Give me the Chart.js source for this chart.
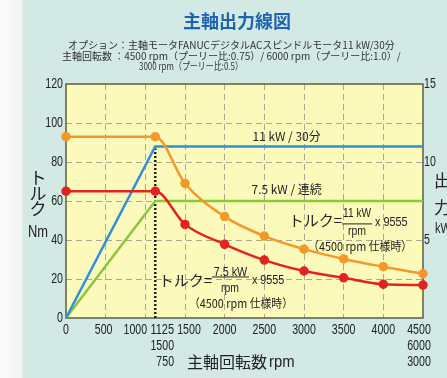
<!DOCTYPE html>
<html>
<head>
<meta charset="utf-8">
<script src="https://cdn.jsdelivr.net/npm/chart.js@4.4.1/dist/chart.umd.min.js"></script>
<style>
  html, body { margin: 0; padding: 0; background: #fff; }
  #wrap {
    width: 447px; height: 378px; position: relative;
    background: linear-gradient(to right, #fbfbfb 0px, #f2f4f3 22px, #d3eae4 23px, #d3eae4 100%);
  }
</style>
</head>
<body>
<div id="wrap"><canvas id="myChart"></canvas></div>
<script>
'use strict';

// rpm where the torque curves have marks
const rpmSteps = [0, 1125, 1500, 2000, 2500, 3000, 3500, 4000, 4500];
// torque, Nm (11 kW / 30 min)
const torque30min = [93, 93, 69, 52, 42, 35.3, 30.3, 26.3, 22.7];
// torque, Nm (7.5 kW continuous)
const torqueCont = [65, 65, 48, 37.8, 29.7, 24.1, 20.6, 17.3, 16.9];

// power lines, kW (right axis)
const powerRpm = [0, 1125, 4500];
const power30min = [0, 11, 11];
const powerCont = [0, 7.5, 7.5];

// base speed marker
const baseRpm = 1125;
const baseMarkTop = 87;

// tick labels
const xTickValues = [0, 500, 1000, 1125, 1500, 2000, 2500, 3000, 3500, 4000, 4500];
const xTickLabels = [['0'], ['500'], ['1000'], ['1125', '1500', '750'], ['1500'], ['2000'],
  ['2500'], ['3000'], ['3500'], ['4000'], ['4500', '6000', '3000']];
const torqueTicks = [0, 20, 40, 60, 80, 100, 120];
const powerTicks = [5, 10, 15];

const numFont = '"Liberation Sans", Arial, sans-serif';
const jpFont = '"Noto Sans CJK JP", sans-serif';

function pts(xs, ys) {
  return xs.map((x, i) => ({x: x, y: ys[i]}));
}

// narrow digits like the printed chart
function narrow(ctx, t, x, y, per) {
  ctx.fillText(t, x, y, t.length * per);
}

const decor = {
  id: 'decor',
  beforeDraw(chart) {
    const {ctx, chartArea: a} = chart;
    ctx.save();
    ctx.fillStyle = '#fcfabb';
    ctx.fillRect(a.left, a.top, a.right - a.left, a.bottom - a.top);
    ctx.restore();
  },
  beforeDatasetsDraw(chart) {
    const {ctx, chartArea: a} = chart;
    ctx.save();
    ctx.strokeStyle = '#5c5c48';
    ctx.lineWidth = 1.5;
    ctx.strokeRect(a.left, a.top, a.right - a.left, a.bottom - a.top);
    ctx.restore();
  },
  afterDraw(chart) {
    const ctx = chart.ctx;
    const a = chart.chartArea;
    const xs = chart.scales.x, ys = chart.scales.y, y2 = chart.scales.y2;
    ctx.save();

    // header
    ctx.fillStyle = '#1f64b1';
    ctx.font = 'bold 18px ' + jpFont;
    ctx.textAlign = 'center';
    ctx.textBaseline = 'middle';
    ctx.fillText('主軸出力線図', 237, 21);

    ctx.fillStyle = '#333';
    ctx.font = '10px ' + jpFont;
    ctx.textAlign = 'left';
    ctx.fillText('オプション：主軸モータFANUCデジタルACスピンドルモータ11 kW/30分', 68, 45, 355);
    ctx.fillText('主軸回転数 ：4500 rpm（プーリー比:0.75）/ 6000 rpm（プーリー比:1.0）/', 62, 56, 346);
    ctx.fillText('3000 rpm（プーリー比:0.5）', 139, 66, 104);

    // axis titles
    ctx.fillStyle = '#222';
    ctx.textAlign = 'center';
    ctx.font = '17px ' + jpFont;
    ['ト', 'ル', 'ク'].forEach((c, i) => ctx.fillText(c, 38, 178 + i * 15.5));
    ctx.font = '16px ' + numFont;
    narrow(ctx, 'Nm', 38, 233, 10);

    ctx.textAlign = 'left';
    ctx.font = '17px ' + jpFont;
    ctx.fillText('出', 434, 181);
    ctx.fillText('力', 434, 208);
    ctx.font = '15px ' + numFont;
    narrow(ctx, 'kW', 435, 229, 8);

    ctx.font = '16px ' + jpFont;
    ctx.fillText('主軸回転数', 187, 362);
    ctx.font = '16px ' + numFont;
    narrow(ctx, 'rpm', 269, 363, 8.5);

    // tick labels
    ctx.font = '14px ' + numFont;
    ctx.textAlign = 'right';
    torqueTicks.forEach(v => narrow(ctx, String(v), a.left - 3, ys.getPixelForValue(v), 5.9));
    ctx.textAlign = 'left';
    powerTicks.forEach(v => narrow(ctx, String(v), a.right + 1, y2.getPixelForValue(v), 5.9));

    // x tick labels, nudged apart where they crowd
    const nudge = {500: -2, 1000: -10, 1125: 7, 1500: 4, 4500: -4};
    ctx.textAlign = 'right';
    xTickValues.forEach((v, i) => {
      const lines = xTickLabels[i];
      const cx = xs.getPixelForValue(v) + (nudge[v] || 0);
      const right = cx + lines[0].length * 5.9 / 2;
      lines.forEach((t, j) => narrow(ctx, t, right, a.bottom + 12 + j * 16, 5.9));
    });

    // line labels
    ctx.textAlign = 'center';
    ctx.font = '12px ' + jpFont;
    ctx.fillText('11 kW / 30分', xs.getPixelForValue(2780), y2.getPixelForValue(11) - 10, 68);
    ctx.fillText('7.5 kW / 連続', xs.getPixelForValue(2780), y2.getPixelForValue(7.5) - 12, 70);

    // torque formulas
    function formula(rpm, nm, num, lineW, rpmDx, multDx, noteDx, dyNum, dyLine, dyDen, dyMult, dyNote) {
      const px = xs.getPixelForValue(rpm);
      const py = ys.getPixelForValue(nm);
      ctx.textAlign = 'right';
      ctx.font = '15px ' + jpFont;
      ctx.fillText('トルク=', px, py);
      ctx.textAlign = 'center';
      ctx.font = '13px ' + numFont;
      narrow(ctx, num, px + lineW / 2, py + dyNum, 5.6);
      narrow(ctx, 'rpm', px + rpmDx, py + dyDen, 6);
      ctx.beginPath();
      ctx.moveTo(px, py + dyLine);
      ctx.lineTo(px + lineW, py + dyLine);
      ctx.strokeStyle = '#222';
      ctx.lineWidth = 1;
      ctx.stroke();
      ctx.textAlign = 'left';
      narrow(ctx, 'x 9555', px + multDx, py + dyMult, 5.4);
      ctx.textAlign = 'center';
      ctx.font = '12px ' + jpFont;
      ctx.fillText('（4500 rpm 仕様時）', px + noteDx, py + dyNote, 104);
    }
    formula(3480, 50.3, '11 kW', 30, 15, 33, 18, -6, 4, 12, 3, 27);
    formula(1840, 19.5, '7.5 kW', 37, 18, 40, 29, -8, -3, 8, 0, 23);

    ctx.restore();
  }
};

const ctx = document.getElementById('myChart').getContext('2d');
window.chart = new Chart(ctx, {
  type: 'line',
  data: {
    datasets: [
      {
        label: 'torque 11 kW',
        data: pts(rpmSteps, torque30min),
        borderColor: '#f3982c',
        backgroundColor: '#f3982c',
        borderWidth: 2.5,
        pointRadius: 3.5,
        cubicInterpolationMode: 'monotone',
        yAxisID: 'y',
        clip: false
      },
      {
        label: 'torque 7.5 kW',
        data: pts(rpmSteps, torqueCont),
        borderColor: '#e2231f',
        backgroundColor: '#e2231f',
        borderWidth: 2.5,
        pointRadius: 3.5,
        cubicInterpolationMode: 'monotone',
        yAxisID: 'y',
        clip: false
      },
      {
        label: '11 kW / 30分',
        data: pts(powerRpm, power30min),
        borderColor: '#2f8fd8',
        borderWidth: 2.5,
        pointRadius: 0,
        yAxisID: 'y2',
        clip: false
      },
      {
        label: '7.5 kW / 連続',
        data: pts(powerRpm, powerCont),
        borderColor: '#8cc63e',
        borderWidth: 2.5,
        pointRadius: 0,
        yAxisID: 'y2',
        clip: false
      },
      {
        label: 'base',
        data: [{x: baseRpm, y: 0}, {x: baseRpm, y: baseMarkTop}],
        borderColor: '#222',
        borderWidth: 2.5,
        borderDash: [2, 2],
        pointRadius: 0,
        yAxisID: 'y'
      }
    ]
  },
  options: {
    responsive: true,
    maintainAspectRatio: false,
    animation: false,
    layout: {padding: {top: 84, left: 0, right: 0, bottom: 0}},
    plugins: {legend: {display: false}, tooltip: {enabled: false}},
    scales: {
      x: {
        type: 'linear',
        min: 0,
        max: 4500,
        ticks: {display: false, stepSize: 500},
        grid: {
          drawTicks: false,
          color: c => (c.tick.value === 0 || c.tick.value === 4500) ? 'rgba(0,0,0,0)' : '#a9a898'
        },
        border: {display: false, dash: [6, 4]},
        afterFit: s => { s.height = 60; }
      },
      y: {
        position: 'left',
        min: 0,
        max: 120,
        ticks: {display: false, stepSize: 20},
        grid: {
          drawTicks: false,
          color: c => (c.tick.value === 0 || c.tick.value === 120) ? 'rgba(0,0,0,0)' : '#a9a898'
        },
        border: {display: false, dash: [6, 4]},
        afterFit: s => { s.width = 66; }
      },
      y2: {
        position: 'right',
        min: 0,
        max: 15,
        ticks: {display: false, stepSize: 5},
        grid: {display: false, drawTicks: false},
        border: {display: false},
        afterFit: s => { s.width = 24; }
      }
    }
  },
  plugins: [decor]
});
</script>
</body>
</html>
